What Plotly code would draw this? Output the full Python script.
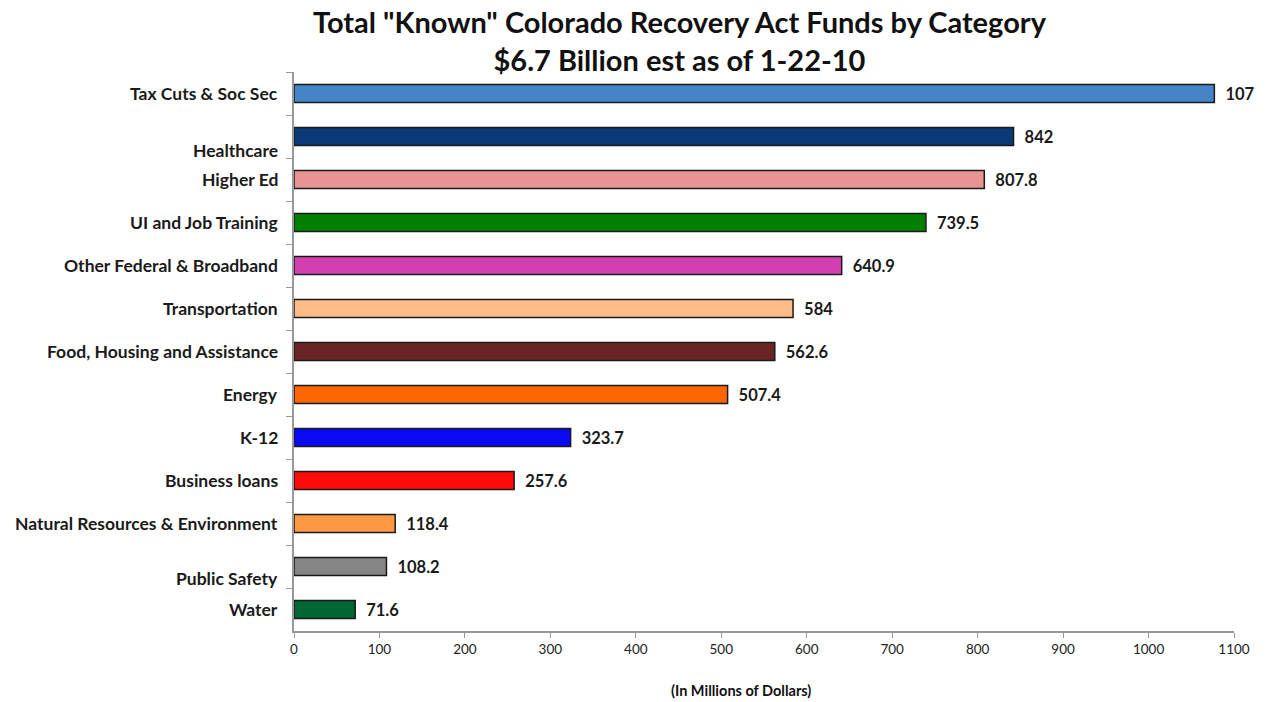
import plotly.graph_objects as go

categories = ["Tax Cuts & Soc Sec", "Healthcare", "Higher Ed", "UI and Job Training ",
              "Other Federal & Broadband", "Transportation", "Food, Housing and Assistance",
              "Energy", "K-12", "Business loans", "Natural Resources & Environment",
              "Public Safety", "Water"]
values = [1077, 842, 807.8, 739.5, 640.9, 584, 562.6, 507.4, 323.7, 257.6, 118.4, 108.2, 71.6]
value_labels = ["107", "842", "807.8", "739.5", "640.9", "584", "562.6", "507.4",
                "323.7", "257.6", "118.4", "108.2", "71.6"]
colors = ["#4585C7", "#0B3A78", "#E89494", "#008000", "#D33FAF", "#FFBB88", "#6B2424",
          "#FF6600", "#0A0AF5", "#FF0A0A", "#FF9944", "#858585", "#006633"]
label_shift = [0, -14, 0, 0, 0, 0, 0, 0, 0, 0, 0, -12, 0]
x_ticks = list(range(0, 1101, 100))

FONT = "Lato"

fig = go.Figure()
fig.add_trace(go.Bar(
    y=categories, x=values, orientation="h",
    marker=dict(color=colors, line=dict(color="#1a1a1a", width=1.5)),
    text=["  " + t for t in value_labels], textposition="outside", constraintext="none",
    textfont=dict(family=FONT, size=16.5, color="#1a1a1a", weight="bold"),
    cliponaxis=False, hoverinfo="skip",
))

for cat, sh in zip(categories, label_shift):
    fig.add_annotation(xref="paper", yref="y", x=0, y=cat, text=cat.strip(),
                       xanchor="right", yanchor="middle", xshift=-14, yshift=sh,
                       showarrow=False,
                       font=dict(family=FONT, size=17.5, color="#1a1a1a", weight="bold"))

fig.add_annotation(xref="paper", yref="paper", x=0.411, y=1.125, xanchor="center", yanchor="top",
                   text='Total "Known" Colorado Recovery Act Funds by Category<br>$6.7 Billion est as of 1-22-10',
                   showarrow=False, align="center",
                   font=dict(family=FONT, size=29, color="#111", weight="bold"))

fig.add_annotation(xref="paper", yref="paper", x=0.4755, y=-0.107, xanchor="center", yanchor="middle",
                   text="(In Millions of Dollars)", showarrow=False,
                   font=dict(family=FONT, size=14.5, color="#111", weight="bold"))

fig.update_layout(
    width=1269, height=702,
    margin=dict(l=294, r=35, t=72, b=71),
    paper_bgcolor="white", plot_bgcolor="white",
    bargap=0.58, showlegend=False,
    xaxis=dict(range=[0, 1100], tickvals=x_ticks, showgrid=False, zeroline=False,
               showline=True, linecolor="#999", linewidth=1.5,
               ticks="outside", ticklen=5, tickcolor="#999",
               tickfont=dict(family=FONT, size=13.5, color="#222")),
    yaxis=dict(type="category", autorange="reversed", showgrid=False, zeroline=False,
               showline=True, linecolor="#999", linewidth=1.5,
               ticks="outside", ticklen=6, tickcolor="#999", tickson="boundaries",
               showticklabels=False),
)

fig.write_html("out.html")
